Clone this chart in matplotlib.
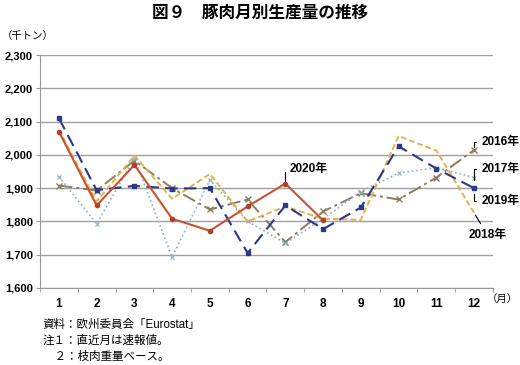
import matplotlib.pyplot as plt
from matplotlib.ticker import FuncFormatter, MultipleLocator

plt.rcParams['font.family'] = ['Liberation Sans', 'Noto Sans CJK JP', 'DejaVu Sans']

# 月別生産量（千トン）
months = [1, 2, 3, 4, 5, 6, 7, 8, 9, 10, 11, 12]
y2016 = [1908, 1893, 1983, 1900, 1836, 1866, 1738, 1830, 1885, 1866, 1932, 2015]
y2017 = [1935, 1793, 1990, 1693, 1925, 1800, 1735, 1808, 1890, 1945, 1962, 1932]
y2018 = [2075, 1860, 1998, 1868, 1943, 1800, 1845, 1808, 1805, 2057, 2013, 1826]
y2019 = [2110, 1894, 1907, 1899, 1900, 1705, 1848, 1777, 1842, 2026, 1959, 1900]
y2020 = [2070, 1848, 1970, 1808, 1772, 1845, 1914, 1803]

fig = plt.figure(figsize=(5.2, 3.65), dpi=100)
ax = fig.add_axes([0.077, 0.211, 0.871, 0.638])

ax.plot(months, y2016, color='#8a7d5c', lw=1.4, dashes=(7, 2, 1.5, 2),
        marker='x', ms=5, mew=1.0)
ax.plot(months, y2017, color='#8fb0c4', lw=1.2, ls=':', marker='x', ms=3, mew=0.8)
ax.plot(months, y2018, color='#e8b04c', lw=1.4, dashes=(3, 1.5))
ax.plot(months, y2019, color='#2b3a86', lw=1.5, dashes=(6, 3),
        marker='s', ms=3.5)
ax.plot(months[:len(y2020)], y2020, color='#c8532e', lw=1.5,
        marker='o', ms=3, mfc='#b0402a', mec='#b0402a')

ax.set_xlim(0.5, 12.5)
ax.set_ylim(1600, 2300)
ax.yaxis.set_major_locator(MultipleLocator(100))
ax.yaxis.set_major_formatter(FuncFormatter(lambda v, p: f'{int(v):,}'))
ax.grid(axis='y', color='#a0a0a0', lw=1.0)
ax.set_axisbelow(True)

ax.set_xticks(months)
ax.set_xticks([m + 0.5 for m in [0] + months], minor=True)
ax.tick_params(axis='x', which='major', length=0, pad=7, labelsize=8.5)
ax.tick_params(axis='x', which='minor', length=3, color='#999999')
ax.tick_params(axis='y', length=3, color='#999999', labelsize=8, pad=2)
for t in ax.get_xticklabels() + ax.get_yticklabels():
    t.set_fontweight('bold')

for s in ['top', 'right']:
    ax.spines[s].set_visible(False)
for s in ['left', 'bottom']:
    ax.spines[s].set_color('#999999')

# 系列ラベル
lab = dict(fontsize=8.5, fontweight='bold', va='center')
elbow = dict(arrowstyle='-', color='black', lw=0.8,
             connectionstyle='angle,angleA=0,angleB=90,rad=0')
ax.annotate('2020年', xy=(7, y2020[6]), xytext=(7.1, 1957), ha='left',
            arrowprops=elbow, **lab)
ax.annotate('2016年', xy=(12, y2016[11]), xytext=(12.2, 2040), ha='left',
            arrowprops=elbow, **lab)
ax.annotate('2017年', xy=(12, y2017[11] - 15), xytext=(12.2, 1958), ha='left',
            arrowprops=elbow, **lab)
ax.annotate('2019年', xy=(12, y2019[11] - 10), xytext=(12.2, 1860), ha='left',
            arrowprops=elbow, **lab)
ax.annotate('2018年', xy=(12, y2018[11]), xytext=(12.35, 1760), ha='center',
            arrowprops=dict(arrowstyle='-', color='black', lw=0.8), **lab)

fig.text(0.5, 0.965, '図９　豚肉月別生産量の推移', ha='center', va='center',
         fontsize=12, fontweight='bold')
fig.text(0.003, 0.9, '（千トン）', ha='left', va='center', fontsize=7.5)
fig.text(0.937, 0.182, '（月）', ha='left', va='center', fontsize=7.5)
fig.text(0.082, 0.11, '資料：欧州委員会「Eurostat」', ha='left', va='center', fontsize=8.3)
fig.text(0.082, 0.066, '注１：直近月は速報値。', ha='left', va='center', fontsize=8.3)
fig.text(0.082, 0.022, '　２：枝肉重量ベース。', ha='left', va='center', fontsize=8.3)

fig.savefig('out.png', dpi=100)
